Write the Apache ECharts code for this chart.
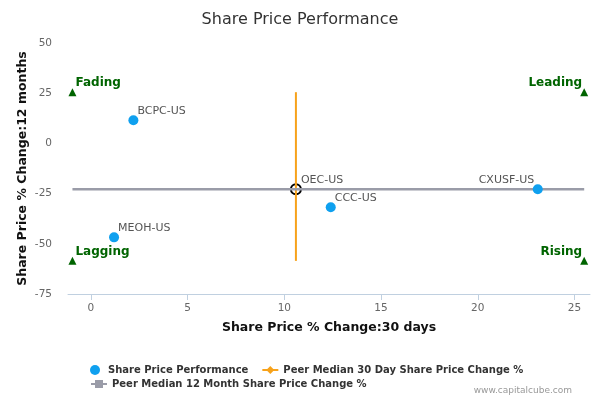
<!DOCTYPE html>
<html><head><meta charset="utf-8">
<script src="https://cdn.jsdelivr.net/npm/echarts@6/dist/echarts.min.js"></script>
<style>html,body{margin:0;padding:0;background:#fff}#c{width:600px;height:400px}</style>
</head><body><div id="c"></div>
<script>
// ---- data ----
const tickers = ['BCPC-US', 'MEOH-US', 'OEC-US', 'CCC-US', 'CXUSF-US'];
const change30d = [2.2, 1.2, 10.6, 12.4, 23.1];
const change12m = [11.5, -46.8, -22.8, -31.8, -22.8];
const subjectTicker = 'OEC-US';
const leftLabelTickers = ['CXUSF-US'];
const median30d = 10.6;
const median12m = -22.8;
const quadrantX = [-0.95, 25.5];   // left / right quadrant marker x
const quadrantY = [-58.5, 25.5];   // bottom / top quadrant marker y
const quadrantNames = ['Fading', 'Leading', 'Lagging', 'Rising'];
const xTickValues = [0, 5, 10, 15, 20, 25];
const yMin = -75, yMax = 50, yStep = 25;
const xMin = -1.18, xMax = 25.8;

const S1 = 'Share Price Performance';
const S2 = 'Peer Median 30 Day Share Price Change %';
const S3 = 'Peer Median 12 Month Share Price Change %';

const rightLbl = { position: 'right', distance: 0, offset: [-1, -9] };
const leftLbl = { position: 'left', distance: 0, offset: [1.5, -9] };

const peerPts = [], subjPts = [];
tickers.forEach((t, i) => {
  const p = { name: t, value: [change30d[i], change12m[i]],
    label: leftLabelTickers.includes(t) ? leftLbl : rightLbl };
  (t === subjectTicker ? subjPts : peerPts).push(p);
});

const quadPts = [
  { name: quadrantNames[0], value: [quadrantX[0], quadrantY[1]], side: 'l' },
  { name: quadrantNames[1], value: [quadrantX[1], quadrantY[1]], side: 'r' },
  { name: quadrantNames[2], value: [quadrantX[0], quadrantY[0]], side: 'l' },
  { name: quadrantNames[3], value: [quadrantX[1], quadrantY[0]], side: 'r' }
].map(p => ({
  name: p.name, value: p.value,
  label: p.side === 'l'
    ? { position: 'right', distance: 0, offset: [-1, -9] }
    : { position: 'left', distance: 0, offset: [2, -9] }
}));

const ptLabel = { show: true, formatter: '{b}', color: '#555', fontSize: 11, fontFamily: 'DejaVu Sans' };

const chart = echarts.init(document.getElementById('c'), null, { renderer: 'canvas' });
chart.setOption({
  animation: false,
  textStyle: { fontFamily: 'DejaVu Sans' },
  title: {
    text: 'Share Price Performance', left: 'center', top: 7,
    textStyle: { fontSize: 16, fontWeight: 'normal', color: '#333', fontFamily: 'DejaVu Sans' }
  },
  graphic: [{
    type: 'text', right: 28, top: 386,
    style: { text: 'www.capitalcube.com', fill: '#999', font: '9px "DejaVu Sans"' }
  }],
  legend: [{
    left: 85, top: 360, itemWidth: 16, itemHeight: 10, itemGap: 13,
    data: [S1, S2],
    textStyle: { fontSize: 10, fontWeight: 'bold', color: '#333', fontFamily: 'DejaVu Sans' }
  }, {
    left: 85, top: 374, itemWidth: 16, itemHeight: 10,
    data: [S3],
    textStyle: { fontSize: 10, fontWeight: 'bold', color: '#333', fontFamily: 'DejaVu Sans' }
  }],
  grid: { left: 68, right: 10, top: 43, bottom: 106, containLabel: false },
  xAxis: {
    type: 'value', min: xMin, max: xMax,
    name: 'Share Price % Change:30 days', nameLocation: 'middle', nameGap: 27,
    nameTextStyle: { fontSize: 12.5, fontWeight: 'bold', color: '#111', fontFamily: 'DejaVu Sans' },
    axisLine: { show: true, onZero: false, lineStyle: { color: '#c0d0e0', width: 1 } },
    axisTick: { show: true, customValues: xTickValues, length: 6, lineStyle: { color: '#c0d0e0' } },
    axisLabel: { customValues: xTickValues, color: '#666', fontSize: 10.5, margin: 9 },
    splitLine: { show: false }
  },
  yAxis: {
    type: 'value', min: yMin, max: yMax, interval: yStep,
    name: 'Share Price % Change:12 months', nameLocation: 'middle', nameGap: 39, nameRotate: 90,
    nameMoveOverlap: false,
    nameTextStyle: { fontSize: 12.5, fontWeight: 'bold', color: '#111', fontFamily: 'DejaVu Sans' },
    axisLine: { show: false }, axisTick: { show: false },
    axisLabel: { color: '#666', fontSize: 10.5, margin: 16 },
    splitLine: { show: false }
  },
  series: [
    {
      name: 'subject', type: 'scatter', z: 2, symbol: 'circle', symbolSize: 10,
      itemStyle: { color: 'rgba(255,255,255,0)', borderColor: '#000', borderWidth: 2, opacity: 1 },
      label: ptLabel, data: subjPts
    },
    {
      name: S2, type: 'line', z: 3, symbol: 'diamond', showSymbol: false,
      lineStyle: { color: '#f7a21b', width: 2 }, itemStyle: { color: '#f7a21b' },
      data: [[median30d, quadrantY[0]], [median30d, quadrantY[1]]]
    },
    {
      name: S3, type: 'line', z: 3, symbol: 'rect', showSymbol: false,
      lineStyle: { color: '#9a9ca8', width: 2.5 }, itemStyle: { color: '#9a9ca8' },
      data: [[quadrantX[0], median12m], [quadrantX[1], median12m]]
    },
    {
      name: S1, type: 'scatter', z: 4, symbol: 'circle', symbolSize: 10,
      itemStyle: { color: '#0fa0ef', opacity: 1 },
      label: ptLabel, data: peerPts
    },
    {
      name: 'quadrants', type: 'scatter', z: 4, symbol: 'triangle', symbolSize: 8,
      itemStyle: { color: '#006400', opacity: 1 },
      label: { show: true, formatter: '{b}', color: '#006400', fontSize: 12, fontWeight: 'bold', fontFamily: 'DejaVu Sans' },
      data: quadPts
    }
  ]
});
</script></body></html>
